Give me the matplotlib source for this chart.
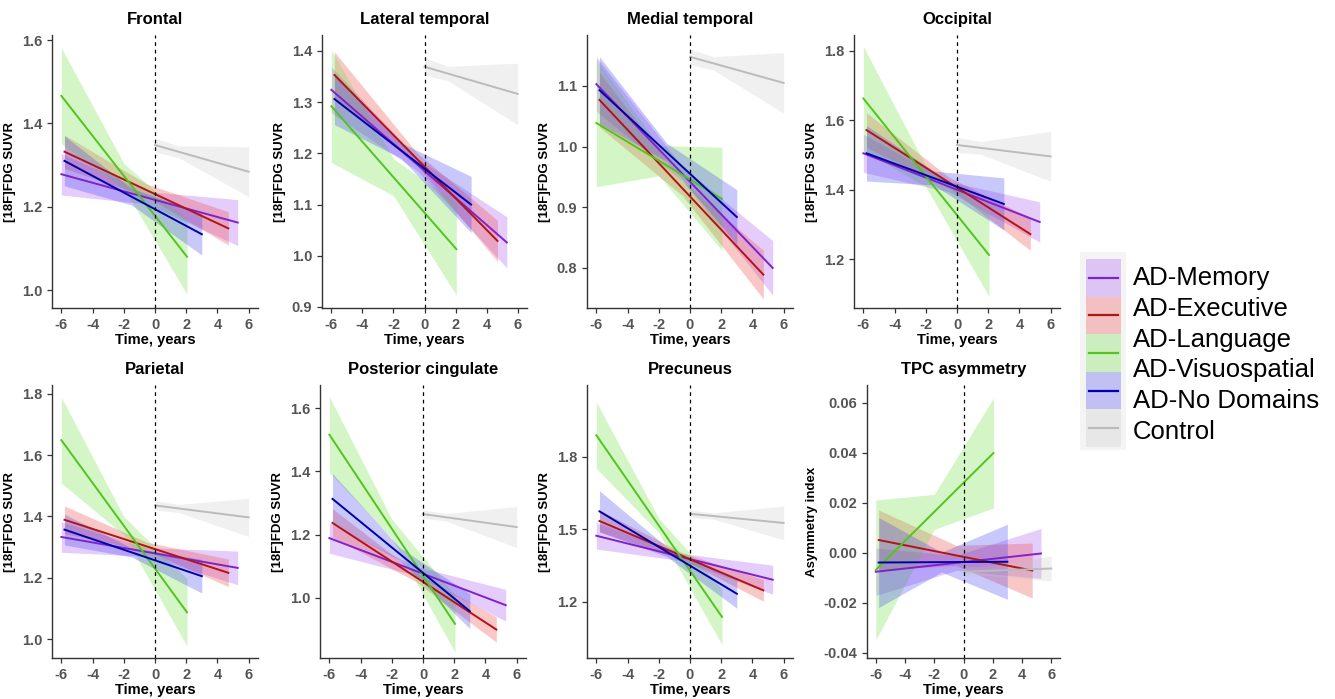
import numpy as np
import matplotlib.pyplot as plt
from matplotlib.patches import Rectangle

plt.rcParams['font.family'] = ['Liberation Sans', 'DejaVu Sans']
plt.rcParams['axes.unicode_minus'] = False

# panel names and axis settings
regioes = ["Frontal", "Lateral temporal", "Medial temporal", "Occipital",
           "Parietal", "Posterior cingulate", "Precuneus", "TPC asymmetry"]
ylabels = ["[18F]FDG SUVR"] * 7 + ["Asymmetry index"]
ylims = [(0.957, 1.612), (0.898, 1.431), (0.734, 1.184), (1.059, 1.846),
         (0.938, 1.829), (0.81, 1.673), (0.968, 2.098), (-0.042, 0.0672)]
yticks = [[1.0, 1.2, 1.4, 1.6], [0.9, 1.0, 1.1, 1.2, 1.3, 1.4], [0.8, 0.9, 1.0, 1.1],
          [1.2, 1.4, 1.6, 1.8], [1.0, 1.2, 1.4, 1.6, 1.8], [1.0, 1.2, 1.4, 1.6],
          [1.2, 1.5, 1.8], [-0.04, -0.02, 0.00, 0.02, 0.04, 0.06]]

# groups: time range of each fitted line, and where the band is narrowest
grupos = ["AD-Memory", "AD-Executive", "AD-Language", "AD-No Domains", "Control"]
x_ini = [-6.0, -5.8, -6.0, -5.8, 0.0]
x_mid = [-0.5, -0.5, -2.0, -1.5, 1.5]
x_fim = [5.3, 4.7, 2.05, 3.0, 6.0]

# fitted value at start / end of the line, one value per panel
mem_y0 = [1.278, 1.324, 1.103, 1.505, 1.333, 1.189, 1.474, -0.0075]
mem_y1 = [1.162, 1.026, 0.800, 1.307, 1.232, 0.977, 1.292, -0.0002]
exe_y0 = [1.332, 1.353, 1.077, 1.572, 1.389, 1.237, 1.535, 0.0052]
exe_y1 = [1.148, 1.029, 0.789, 1.272, 1.216, 0.900, 1.248, -0.0070]
lan_y0 = [1.466, 1.292, 1.039, 1.663, 1.649, 1.516, 1.890, -0.0068]
lan_y1 = [1.080, 1.013, 0.914, 1.212, 1.087, 0.918, 1.138, 0.0400]
nod_y0 = [1.310, 1.306, 1.093, 1.505, 1.357, 1.313, 1.575, -0.0038]
nod_y1 = [1.134, 1.100, 0.884, 1.359, 1.205, 0.958, 1.234, -0.0035]
con_y0 = [1.348, 1.369, 1.148, 1.529, 1.436, 1.265, 1.565, -0.0075]
con_y1 = [1.284, 1.316, 1.105, 1.496, 1.397, 1.224, 1.527, -0.0062]

# half width of the confidence band (start, narrowest, end)
mem_ci = [(0.050, 0.015, 0.055), (0.045, 0.012, 0.050), (0.045, 0.012, 0.045), (0.055, 0.015, 0.058),
          (0.050, 0.014, 0.055), (0.048, 0.014, 0.050), (0.055, 0.015, 0.060), (0.0095, 0.003, 0.010)]
exe_ci = [(0.040, 0.015, 0.040), (0.045, 0.012, 0.040), (0.045, 0.012, 0.040), (0.050, 0.015, 0.047),
          (0.045, 0.014, 0.045), (0.045, 0.014, 0.040), (0.045, 0.014, 0.045), (0.012, 0.004, 0.011)]
lan_ci = [(0.115, 0.030, 0.090), (0.110, 0.036, 0.090), (0.105, 0.025, 0.085), (0.150, 0.030, 0.120),
          (0.140, 0.030, 0.110), (0.120, 0.030, 0.090), (0.137, 0.030, 0.115), (0.028, 0.007, 0.022)]
nod_ci = [(0.060, 0.020, 0.050), (0.050, 0.015, 0.055), (0.055, 0.015, 0.045), (0.080, 0.020, 0.075),
          (0.050, 0.015, 0.055), (0.080, 0.020, 0.055), (0.085, 0.020, 0.060), (0.018, 0.004, 0.015)]
con_ci = [(0.017, 0.014, 0.060), (0.017, 0.014, 0.060), (0.013, 0.011, 0.050), (0.022, 0.018, 0.072),
          (0.015, 0.013, 0.062), (0.013, 0.012, 0.065), (0.015, 0.013, 0.070), (0.002, 0.0018, 0.005)]

y0s = [mem_y0, exe_y0, lan_y0, nod_y0, con_y0]
y1s = [mem_y1, exe_y1, lan_y1, nod_y1, con_y1]
cis = [mem_ci, exe_ci, lan_ci, nod_ci, con_ci]

cor_linha = ['#7F22CC', '#B01515', '#52C41E', '#0000AA', '#BBBBBB']
cor_banda = ['#A24CF2', '#F04848', '#66E036', '#3A3AF2', '#C4C4C4']
alfa = [0.28, 0.30, 0.28, 0.28, 0.25]

# axes positions in pixels: left, right, top, bottom
W, H = 1335, 699
caixas = [(52, 258, 35, 308), (322, 527, 35, 308), (587, 793, 35, 308), (854, 1060, 35, 308),
          (52, 258, 385, 658), (320, 526, 385, 658), (587, 793, 385, 658), (867, 1060, 385, 658)]

fig = plt.figure(figsize=(W / 100, H / 100), dpi=100)

for i in range(8):
    l, r, t, b = caixas[i]
    ax = fig.add_axes([l / W, 1 - b / H, (r - l) / W, (b - t) / H])

    # ribbons first, then lines on top
    for g in range(5):
        xs = np.array([x_ini[g], x_mid[g], x_fim[g]])
        ys = np.interp(xs, [x_ini[g], x_fim[g]], [y0s[g][i], y1s[g][i]])
        hw = np.array(cis[g][i])
        ax.fill_between(xs, ys - hw, ys + hw, color=cor_banda[g], alpha=alfa[g], lw=0)
    for g in range(5):
        ax.plot([x_ini[g], x_fim[g]], [y0s[g][i], y1s[g][i]], color=cor_linha[g], lw=1.4)

    ax.axvline(0, color='black', lw=0.9, ls=(0, (3, 3)))
    ax.set_xlim(-6.6, 6.6)
    ax.set_ylim(*ylims[i])
    ax.set_xticks([-6, -4, -2, 0, 2, 4, 6])
    ax.set_yticks(yticks[i])
    if i == 7:
        ax.set_yticklabels(["%.2f" % v for v in yticks[i]])
    else:
        ax.set_yticklabels(["%.1f" % v for v in yticks[i]])
    for s in ['top', 'right']:
        ax.spines[s].set_visible(False)
    for s in ['left', 'bottom']:
        ax.spines[s].set_color('#333333')
        ax.spines[s].set_linewidth(1.0)
    ax.tick_params(colors='#333333', labelcolor='#555555', labelsize=10.5, length=3.5, width=0.9)
    for lab in ax.get_xticklabels() + ax.get_yticklabels():
        lab.set_fontweight('bold')
    ax.set_title(regioes[i], fontsize=12, fontweight='bold', pad=8)
    ax.set_xlabel("Time, years", fontsize=10.5, fontweight='bold', labelpad=1)
    ax.set_ylabel(ylabels[i], fontsize=9.5, fontweight='bold', labelpad=4)

# legend drawn by hand (5 keys, 6 labels as in the original figure)
leg = fig.add_axes([0, 0, 1, 1])
leg.set_xlim(0, W)
leg.set_ylim(H, 0)
leg.axis('off')
leg.add_patch(Rectangle((1080, 252), 46, 198, color='#F4F4F4', lw=0))
for g in range(5):
    yk = 259 + g * 37.6
    leg.add_patch(Rectangle((1086, yk), 35, 37.6, color=cor_banda[g], alpha=alfa[g], lw=0))
    leg.plot([1089, 1118], [yk + 18.8, yk + 18.8], color=cor_linha[g], lw=1.6)
rotulos = ["AD-Memory", "AD-Executive", "AD-Language", "AD-Visuospatial", "AD-No Domains", "Control"]
for k, txt in enumerate(rotulos):
    leg.text(1133, 285 + k * 30.8, txt, fontsize=18.5, va='baseline', ha='left')

fig.savefig("out.png", dpi=100)
